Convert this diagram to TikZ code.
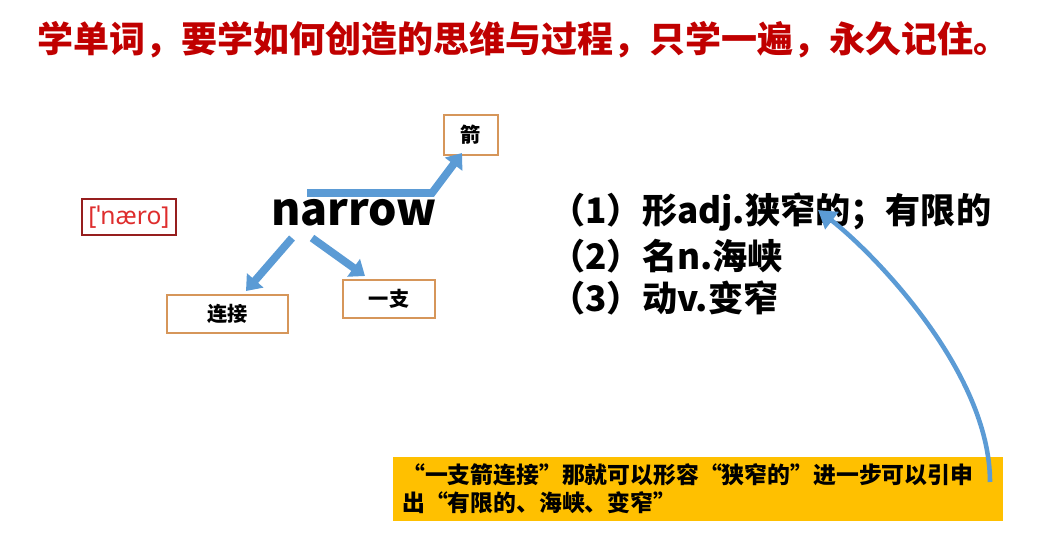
\documentclass[tikz,border=0pt]{standalone}
\usepackage{fontspec}
\setmainfont{Noto Sans CJK SC}
\newfontfamily\ipafont{Noto Sans}
\usetikzlibrary{arrows.meta}
\definecolor{titlered}{RGB}{192,0,0}
\definecolor{arrowblue}{RGB}{91,155,213}
\definecolor{boxorange}{RGB}{214,150,90}
\definecolor{notegold}{RGB}{255,192,0}
\definecolor{ipared}{RGB}{222,45,45}
\definecolor{ipaedge}{RGB}{150,30,30}
\tikzset{
  wordbox/.style={draw=boxorange, line width=0.7pt, fill=white, font={\fontsize{11.5pt}{14pt}\selectfont\bfseries}},
  blockarrow/.style={draw=arrowblue, line width=4.4pt, line join=miter, -{Triangle[width=12pt,length=8pt]}},
  meaning/.style={anchor=west, inner sep=0pt, font={\fontsize{20pt}{22pt}\selectfont\bfseries}},
  noteline/.style={anchor=west, font={\fontsize{13pt}{16pt}\selectfont\bfseries}}}

\begin{document}
\begin{tikzpicture}[x=0.02cm, y=-0.02cm]
  \useasboundingbox (0,0) rectangle (1053,553);
  % title
  \node (title) [anchor=west, inner sep=0pt, text=titlered, font={\fontsize{20.5pt}{24pt}\selectfont\bfseries}] at (37,40) {学单词，要学如何创造的思维与过程，只学一遍，永久记住。};
  % word and boxes
  \node (word) [font={\fontsize{25.5pt}{30pt}\selectfont\bfseries}] at (354,213) {narrow};
  \node (ipa) [draw=ipaedge, line width=0.6pt, text=ipared, minimum width=1.88cm, minimum height=0.72cm, font={\ipafont\fontsize{14pt}{16pt}\selectfont}] at (129,217) {[ˈnæro]};
  \node (jian) [wordbox, minimum width=1.08cm, minimum height=0.8cm] at (471,135) {箭};
  \node (lianjie) [wordbox, minimum width=2.42cm, minimum height=0.76cm] at (227.5,314) {连接};
  \node (yizhi) [wordbox, minimum width=1.84cm, minimum height=0.76cm] at (389,299) {一支};
  % arrows
  \coordinate (bendfrom) at (307,193);
  \coordinate (bendknee) at (432,193);
  \coordinate (bendto) at (462,153);
  \coordinate (leftfrom) at (292,238);
  \coordinate (leftto) at (246,291);
  \coordinate (rightfrom) at (312,238);
  \coordinate (rightto) at (365,276);
  \draw[blockarrow] (bendfrom) -- (bendknee) -- (bendto);
  \draw[blockarrow] (leftfrom) -- (leftto);
  \draw[blockarrow] (rightfrom) -- (rightto);
  % meanings
  \node (m1) [meaning] at (550,212) {（1）形adj.狭窄的；有限的};
  \node (m2) [meaning] at (550,256) {（2）名n.海峡};
  \node (m3) [meaning] at (550,298) {（3）动v.变窄};
  % note
  \fill[notegold] (393,457) rectangle (1003,521);
  \node (n1) [noteline] at (396,475) {“一支箭连接”那就可以形容“狭窄的”进一步可以引申};
  \node (n2) [noteline] at (396,503) {出“有限的、海峡、变窄”};
  \coordinate (curvefrom) at (990,482);
  \coordinate (curveto) at (818,210);
  \draw[draw=arrowblue, line width=2.6pt, -{Triangle[width=12pt,length=10pt]}] (curvefrom) .. controls (990,370) and (870,250) .. (curveto);
\end{tikzpicture}
\end{document}
